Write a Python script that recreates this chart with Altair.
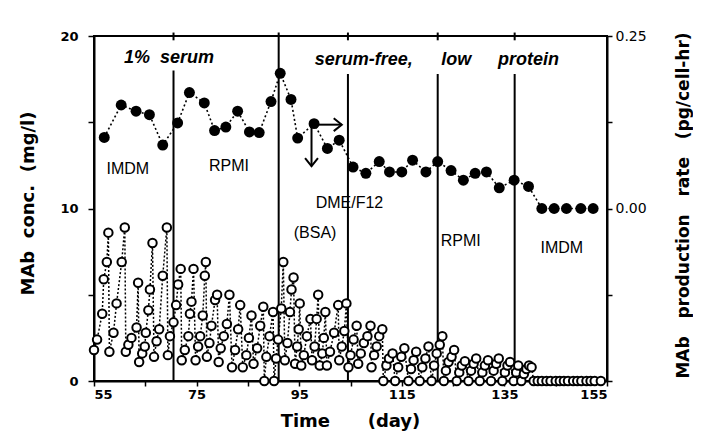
import altair as alt
import pandas as pd

NB = "\u00a0"

# ---------------- data ----------------
open_day = [
    55.0, 55.6, 56.6, 56.9, 57.5, 57.8,
    58.0, 58.8, 59.4, 60.4, 61.0,
    61.2, 61.7, 62.3, 63.3, 63.6,
    63.8, 64.4, 64.9, 65.1, 65.6, 65.9, 66.4,
    66.7, 67.2, 67.7, 68.4, 69.2,
    69.4, 69.8, 70.5, 71.0, 71.4, 71.9,
    72.1, 72.7, 73.4, 73.7, 74.0, 74.4,
    74.8, 75.3, 75.7, 76.2, 76.6, 76.8,
    77.0, 77.5, 77.9, 78.6, 79.0,
    79.3, 79.7, 80.3, 80.9, 81.4,
    81.9, 82.5, 83.1, 83.5,
    84.0, 84.7, 85.2, 85.7,
    86.1, 86.8, 87.4, 88.0,
    88.2, 88.6, 89.2, 89.9,
    90.1, 90.5, 90.9, 91.5, 91.9,
    92.2, 92.7, 93.2, 93.5, 93.9,
    94.2, 94.6, 94.9, 95.1,
    95.4, 95.9, 96.5, 97.2,
    97.5, 98.0, 98.4, 98.7,
    99.0, 99.5, 99.8, 100.1,
    100.4, 101.0, 101.8, 102.6,
    102.8, 103.3, 103.8, 104.2,
    104.6, 105.0, 105.6, 106.2,
    106.5, 107.0, 107.6, 108.3, 108.9,
    109.1, 109.6, 110.1, 110.6, 111.2,
    111.4, 112.0, 112.5, 113.2,
    113.7, 114.3, 114.9, 115.5,
    116.3, 116.8, 117.3, 117.8,
    118.5, 119.0, 119.6, 120.2,
    120.8, 121.3, 121.8, 122.4, 122.9,
    123.2, 123.6, 124.1, 124.7, 125.2,
    125.7, 126.2, 126.7, 127.3,
    128.0, 128.5, 129.0, 129.5,
    130.2, 130.7, 131.2, 131.8,
    132.4, 132.9, 133.4, 133.9,
    134.6, 135.1, 135.6, 136.1,
    136.8, 137.3, 137.7,
    138.3, 138.8, 139.3, 139.8, 140.3,
    140.7, 141.5, 142.3, 143.2, 144.0, 145.0, 145.8, 146.6,
    147.4, 148.4, 149.2, 150.0, 151.0, 151.8, 152.6, 153.8,
]
open_conc = [
    1.8, 2.4, 3.9, 5.9, 6.9, 8.6,
    1.7, 2.8, 4.5, 6.9, 8.9,
    1.7, 2.1, 2.5, 3.1, 5.7,
    1.1, 1.6, 2.0, 2.8, 4.1, 5.3, 8.0,
    1.4, 2.3, 3.0, 6.1, 8.9,
    1.5, 2.6, 3.4, 4.4, 5.6, 6.5,
    1.2, 1.8, 2.6, 3.9, 4.6, 6.5,
    1.2, 2.0, 2.6, 3.8, 6.1, 6.9,
    1.4, 2.2, 3.2, 4.7, 5.0,
    1.1, 1.9, 2.6, 3.3, 5.0,
    0.8, 1.8, 3.0, 4.4,
    0.8, 1.5, 2.5, 3.8,
    1.0, 1.9, 3.2, 4.3,
    0.0, 1.4, 2.6, 4.0,
    0.0, 1.3, 2.4, 4.2, 6.9,
    1.2, 2.2, 4.0, 5.3, 6.0,
    1.0, 2.0, 3.0, 4.5,
    0.9, 1.5, 2.6, 3.6,
    1.2, 2.0, 3.6, 5.0,
    0.9, 1.6, 2.5, 4.0,
    0.9, 1.7, 2.8, 4.4,
    1.2, 2.0, 2.9, 4.5,
    0.8, 1.5, 2.4, 3.2,
    1.0, 1.6, 2.2, 2.6, 3.2,
    0.8, 1.5, 2.0, 2.6, 3.0,
    0.0, 0.9, 1.3, 1.6,
    0.0, 0.8, 1.4, 1.9,
    0.0, 0.7, 1.2, 1.7,
    0.0, 0.8, 1.3, 2.0,
    0.0, 0.9, 1.6, 2.1, 2.6,
    0.0, 0.6, 1.1, 1.4, 1.8,
    0.0, 0.5, 0.9, 1.15,
    0.0, 0.6, 1.0, 1.3,
    0.0, 0.5, 0.9, 1.2,
    0.0, 0.6, 1.0, 1.3,
    0.0, 0.5, 0.9, 1.1,
    0.0, 0.5, 0.9,
    0.0, 0.4, 0.7, 0.9, 0.8,
    0.0, 0.0, 0.0, 0.0, 0.0, 0.0, 0.0, 0.0,
    0.0, 0.0, 0.0, 0.0, 0.0, 0.0, 0.0, 0.0,
]

rate_day = [57.0, 60.3, 63.2, 65.8, 68.4, 71.3, 73.6, 76.5, 78.5, 80.7,
            83.0, 85.3, 87.2, 89.5, 91.3, 93.4, 94.7, 97.9, 100.5, 102.8,
            105.5, 108.0, 110.6, 112.6, 115.0, 117.1, 119.7, 122.0, 124.6, 127.0,
            129.3, 131.5, 134.0, 136.9, 139.7, 142.3, 144.7, 147.1, 149.9, 152.3]
rate_val = [0.103, 0.150, 0.141, 0.136, 0.092, 0.124, 0.168, 0.153, 0.113, 0.118,
            0.141, 0.111, 0.110, 0.155, 0.196, 0.158, 0.102, 0.123, 0.087, 0.099,
            0.060, 0.051, 0.068, 0.053, 0.053, 0.070, 0.053, 0.068, 0.055, 0.041,
            0.051, 0.053, 0.030, 0.041, 0.032, 0.0, 0.0, 0.0, 0.0, 0.0]

# medium-change lines (segments: lower part and small top tick)
seg_day = [70.5, 70.5, 91.0, 104.5, 104.5, 122.0, 122.0, 137.0, 137.0]
seg_lo = [0.0, 19.75, 0.0, 0.0, 19.75, 0.0, 19.75, 0.0, 19.75]
seg_hi = [18.0, 20.2, 20.2, 17.8, 20.2, 17.8, 20.2, 17.8, 20.2]

media_text = ["IMDM", "RPMI", "DME/F12", "(BSA)", "RPMI", "IMDM"]
media_day = [61.6, 81.3, 104.8, 98.1, 126.5, 146.2]
media_val = [12.3, 12.45, 10.3, 8.6, 8.1, 7.7]

head_text = ["1%" + NB + NB + "serum", "serum-free,", "low", "protein"]
head_day = [69.6, 107.6, 125.6, 139.7]
head_val = [18.75, 18.6, 18.6, 18.6]

arrow_x0 = [97.4, 98.3]
arrow_x1 = [97.4, 103.3]
arrow_y0 = [14.72, 14.86]
arrow_y1 = [12.45, 14.86]
arrow_angle = [90, 0]

# ---------------- tables ----------------
open_df = pd.DataFrame({"day": open_day, "conc": open_conc})
rate_df = pd.DataFrame({"day": rate_day, "rate": rate_val})
seg_df = pd.DataFrame({"day": seg_day, "lo": seg_lo, "hi": seg_hi})
media_df = pd.DataFrame({"t": media_text, "day": media_day, "conc": media_val})
head_df = pd.DataFrame({"t": head_text, "day": head_day, "conc": head_val})
arrow_df = pd.DataFrame({"x0": arrow_x0, "x1": arrow_x1, "y0": arrow_y0,
                         "y1": arrow_y1, "ang": arrow_angle})

# ---------------- scales / axes ----------------
xscale = alt.Scale(domain=[55, 155], nice=False, zero=False)
yscale = alt.Scale(domain=[0, 20], nice=False)
rscale = alt.Scale(domain=[-0.25, 0.25], nice=False, zero=False)

xaxis = alt.Axis(
    title="Time" + NB * 6 + "(day)",
    values=[55, 65, 75, 85, 95, 105, 115, 125, 135, 145, 155],
    labelExpr="(datum.value - 55) % 20 == 0 ? datum.label : ''",
    grid=False, tickSize=5, labelPadding=2,
    labelFont="DejaVu Sans", labelFontSize=13, labelFontWeight="bold",
    titleFont="DejaVu Sans", titleFontSize=18, titleFontWeight="bold",
    titleX=256, titleY=40, titleBaseline="middle", titleAlign="center",
)
yaxis = alt.Axis(
    title="MAb" + NB * 2 + "conc." + NB * 2 + "(mg/l)",
    orient="left",
    values=[0, 5, 10, 15, 20],
    labelExpr="datum.value % 10 == 0 ? datum.label : ''",
    grid=False, tickSize=6, labelPadding=10,
    labelFont="DejaVu Sans", labelFontSize=13, labelFontWeight="bold",
    titleFont="DejaVu Sans", titleFontSize=18, titleFontWeight="bold",
    titleAngle=270, titleX=-66, titleY=167, titleBaseline="middle", titleAlign="center",
)
raxis = alt.Axis(
    title="MAb" + NB * 3 + "production" + NB * 3 + "rate" + NB * 3 + "(pg/cell-hr)",
    orient="right",
    values=[-0.25, -0.125, 0, 0.125, 0.25],
    format=".2f",
    labelExpr="(datum.value == 0 || datum.value == 0.25) ? datum.label : ''",
    grid=False, tickSize=5, labelPadding=3,
    labelFont="DejaVu Sans", labelFontSize=14, labelFontWeight="normal",
    titleFont="DejaVu Sans", titleFontSize=17, titleFontWeight="bold",
    titleAngle=270, titleX=76, titleY=169, titleBaseline="middle", titleAlign="center",
)

X = lambda f: alt.X(f, type="quantitative", scale=xscale, axis=xaxis)
Y = lambda f: alt.Y(f, type="quantitative", scale=yscale, axis=yaxis)

rules = alt.Chart(seg_df).mark_rule(color="black", strokeWidth=2).encode(
    x=X("day"), y=Y("lo"), y2="hi")

open_line = alt.Chart(open_df).mark_line(
    color="black", strokeWidth=1.5, strokeDash=[2, 2]).encode(
    x=X("day"), y=Y("conc"), order="day:Q")

open_pts = alt.Chart(open_df).mark_point(
    shape="circle", filled=True, fill="white", stroke="black",
    strokeWidth=2, size=72, opacity=1).encode(x=X("day"), y=Y("conc"))

media_txt = alt.Chart(media_df).mark_text(
    font="Liberation Sans", fontSize=16, color="black").encode(
    x=X("day"), y=Y("conc"), text="t:N")

head_txt = alt.Chart(head_df).mark_text(
    font="Liberation Sans", fontSize=18, fontWeight="bold", fontStyle="italic",
    color="black").encode(x=X("day"), y=Y("conc"), text="t:N")

arrow_shaft = alt.Chart(arrow_df).mark_rule(color="black", strokeWidth=2).encode(
    x=X("x0"), x2="x1", y=Y("y0"), y2="y1")

arrow_head = alt.Chart(arrow_df).mark_point(
    shape="M-1,-0.8L0,0L-1,0.8", filled=False, stroke="black", strokeWidth=2,
    size=260, opacity=1).encode(
    x=X("x1"), y=Y("y1"), angle=alt.Angle("ang:Q", scale=None))

left = alt.layer(rules, open_line, open_pts, media_txt, head_txt, arrow_shaft, arrow_head)

rate_line = alt.Chart(rate_df).mark_line(
    color="black", strokeWidth=1.6, strokeDash=[2, 2.5]).encode(
    x=X("day"),
    y=alt.Y("rate:Q", scale=rscale, axis=raxis), order="day:Q")
rate_pts = alt.Chart(rate_df).mark_circle(color="black", size=120, opacity=1).encode(
    x=X("day"),
    y=alt.Y("rate:Q", scale=rscale, axis=raxis))

right = alt.layer(rate_line, rate_pts)

chart = alt.layer(left, right).resolve_scale(y="independent").properties(
    width=513, height=345,
    autosize=alt.AutoSizeParams(type="none"),
    padding={"left": 86, "top": 28, "right": 86, "bottom": 53},
    background="white",
).configure_axis(
    domainColor="black", domainWidth=2, tickColor="black", tickWidth=1.5,
    labelColor="black", titleColor="black",
).configure_view(stroke="black", strokeWidth=2)

chart.save("out.html", embed_options={"renderer": "svg", "actions": False})
